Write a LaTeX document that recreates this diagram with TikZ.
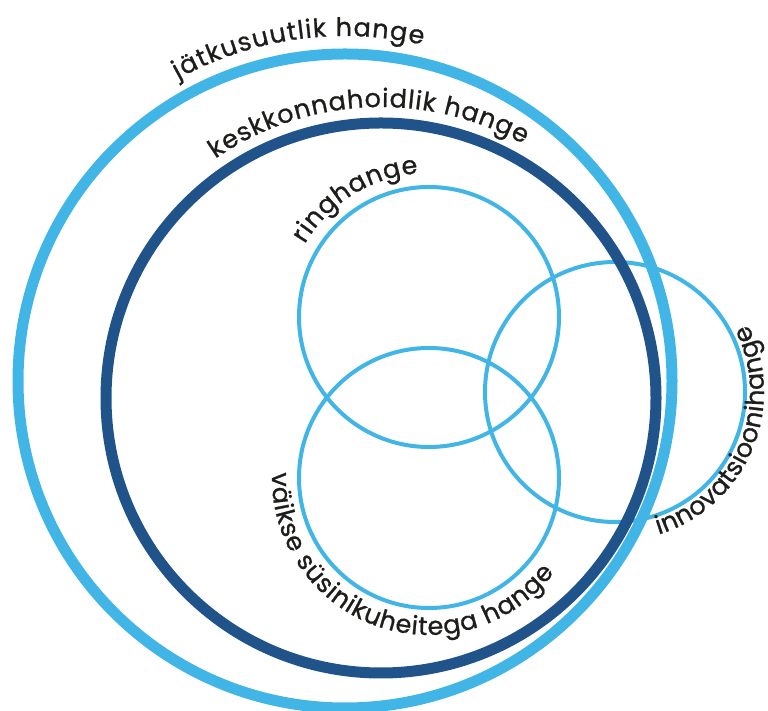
\documentclass[tikz,border=0pt]{standalone}
\usepackage{fontspec}
\setmainfont{Poppins}
\newfontfamily\lblfamily{Poppins}[FakeBold=0.9]
\usetikzlibrary{decorations.text}
\definecolor{lightblue}{HTML}{41B6E6}
\definecolor{darkblue}{HTML}{20538A}
\definecolor{labelgray}{HTML}{1D1D1B}
\newcommand{\lbl}{\lblfamily\fontsize{25.5}{28}\selectfont\color{labelgray}}

\begin{document}
\begin{tikzpicture}[x=1pt, y=1pt,
  thinring/.style={draw=lightblue, line width=4pt},
  thickring/.style={line width=11pt},
  arclabel/.style={decorate, decoration={text along path, text align=fit to path, text={|\lbl|#1}}}]
\useasboundingbox (0,0) rectangle (768,711);
% centres of the circles
\coordinate (outer) at (345,330);
\coordinate (env) at (381,313);
\coordinate (ring) at (429,394);
\coordinate (carbon) at (429,233);
\coordinate (innov) at (615,319);

% small circles
\draw[thinring] (ring) circle[radius=130];
\draw[thinring] (carbon) circle[radius=130];
\draw[thinring] (innov) circle[radius=130];

% big circles
\draw[thickring, draw=darkblue] (env) circle[radius=275];
\draw[thickring, draw=lightblue] (outer) circle[radius=327];

% labels along the circles
\path[arclabel={jätkusuutlik hange}] (outer) ++(119:345) arc[start angle=119, end angle=77, radius=345];
\path[arclabel={keskkonnahoidlik hange}] (env) ++(124.7:291) arc[start angle=124.7, end angle=60.7, radius=291];
\path[arclabel={ringhange}] (ring) ++(149.6:144) arc[start angle=149.6, end angle=94.3, radius=144];
\path[arclabel={innovatsioonihange}] (innov) ++(-73:149) arc[start angle=-73, end angle=27, radius=149];
\path[arclabel={väikse süsinikuheitega hange}] (carbon) ++(178:157) arc[start angle=178, end angle=323, radius=157];
\end{tikzpicture}
\end{document}
